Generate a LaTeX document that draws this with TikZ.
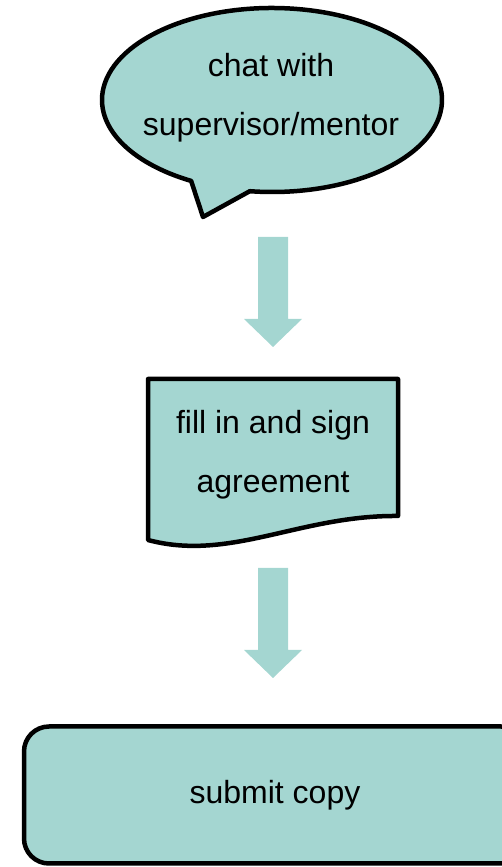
\documentclass[tikz,border=0pt]{standalone}
\usepackage{fontspec}
\setmainfont{Liberation Sans}
\usepackage{tikz}
\definecolor{mint}{HTML}{A4D6D1}

\begin{document}
\begin{tikzpicture}[x=1pt, y=1pt,
        shape outline/.style = {draw = black, line width = 4.5pt, fill = mint, line join = round},
        label text/.style = {font = \fontsize{32}{59}\selectfont, align = center, inner sep = 0pt},
        block arrow/.style = {fill = mint}]
                \useasboundingbox (0, 0) rectangle (502, 867);
                \clip (0, 0) rectangle (502, 867);
                % speech bubble
                \draw[shape outline] (272, 767) ++(262.5:170 and 92)
                    arc[start angle = 262.5, end angle = 601.6, x radius = 170, y radius = 92]
                    -- (203, 650) -- cycle;
                \node[label text] (chat) at (271, 769) {chat with\\supervisor/mentor};
                % arrows
                \foreach \top in {630, 299}
                    \fill[block arrow] (258, \top) -- (288, \top) -- (288, {\top - 82}) -- (302, {\top - 82})
                        -- (273, {\top - 110}) -- (244, {\top - 82}) -- (258, {\top - 82}) -- cycle;
                % document
                \draw[shape outline] (148, 488) -- (398, 488) -- (398, 351)
                    .. controls (300, 352) and (230, 305) .. (148, 327) -- cycle;
                \node[label text] (agree) at (273, 412) {fill in and sign\\agreement};
                % last step
                \node[shape outline, label text, rounded corners = 25pt, minimum width = 502pt,
                    minimum height = 137pt] (submit) at (275, 72) {submit copy};
\end{tikzpicture}
\end{document}
